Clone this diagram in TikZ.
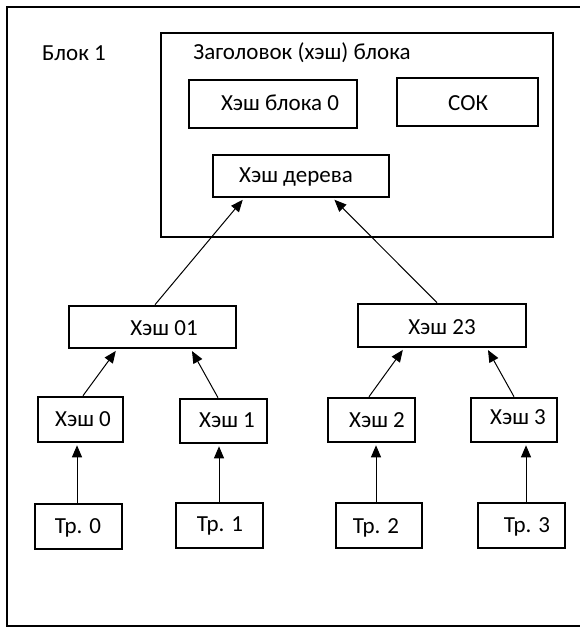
\documentclass[tikz,border=0pt]{standalone}
\usepackage{fontspec}
\setmainfont{Carlito}
\usetikzlibrary{arrows.meta}

\tikzset{
  box/.style={draw, line width=2.6pt, inner sep=0pt},
  lbl/.style={inner sep=0pt, font=\fontsize{23}{27}\selectfont},
  link/.style={line width=1pt, -{Triangle[length=12pt,width=10pt]}, shorten >=2pt},
}

% box from its corners (left, top, right, bottom), in pixels with y pointing down
\newcommand{\boxat}[5]{%
  \node[box, minimum width={(#4-#2)*1pt}, minimum height={(#5-#3)*1pt}]
    (#1) at ({(#2+#4)/2},{(#3+#5)/2}) {};}

\begin{document}
\begin{tikzpicture}[x=1pt, y=-1pt]
  \useasboundingbox (0,0) rectangle (579,628);

  % outer block frame, open on the right
  \draw[line width=2.6pt] (582,7) -- (7,7) -- (7,626) -- (582,626);
  \node[lbl] (blk) at (74,53) {Блок 1};

  % block header
  \boxat{hdr}{161}{33}{553}{237}
  \node[lbl] (hdrt) at (302,53) {Заголовок (хэш) блока};
  \boxat{hb0}{189}{80}{357}{128}
  \node[lbl] (hb0t) at (280,103) {Хэш блока 0};
  \boxat{sok}{397}{78}{538}{126}
  \node[lbl] (sokt) at (468,103) {СОК};
  \boxat{hd}{213}{155}{389}{197}
  \node[lbl] (hdt) at (296,177) {Хэш дерева};

  % Merkle tree
  \boxat{h01}{69}{306}{236}{348}
  \node[lbl] (h01t) at (164,328) {Хэш 01};
  \boxat{h23}{358}{304}{526}{347}
  \node[lbl] (h23t) at (442,327) {Хэш 23};

  \boxat{h0}{38}{397}{123}{442}
  \node[lbl] (h0t) at (83,419) {Хэш 0};
  \boxat{h1}{180}{399}{267}{443}
  \node[lbl] (h1t) at (227,420) {Хэш 1};
  \boxat{h2}{328}{398}{415}{442}
  \node[lbl] (h2t) at (377,420) {Хэш 2};
  \boxat{h3}{471}{398}{557}{442}
  \node[lbl] (h3t) at (518,417) {Хэш 3};

  \boxat{t0}{35}{504}{122}{549}
  \node[lbl] (t0t) at (78,528) {Тр. 0};
  \boxat{t1}{176}{503}{263}{548}
  \node[lbl] (t1t) at (220,526) {Тр. 1};
  \boxat{t2}{336}{503}{422}{548}
  \node[lbl] (t2t) at (376,528) {Тр. 2};
  \boxat{t3}{478}{503}{565}{548}
  \node[lbl] (t3t) at (527,527) {Тр. 3};

  % connectors
  \draw[link] ([xshift=2.5pt]h01.north) -- ([xshift=-57pt]hd.south);
  \draw[link] ([xshift=-5pt]h23.north) -- ([xshift=32pt]hd.south);

  \draw[link] ([xshift=2.5pt]h0.north) -- ([xshift=-35.5pt]h01.south);
  \draw[link] ([xshift=-5.5pt]h1.north) -- ([xshift=38.5pt]h01.south);
  \draw[link] ([xshift=-2.5pt]h2.north) -- ([xshift=-38pt]h23.south);
  \draw[link] (h3.north) -- ([xshift=45pt]h23.south);

  \draw[link] ([xshift=-1.5pt]t0.north) -- ([xshift=-3.5pt]h0.south);
  \draw[link] ([xshift=-0.5pt]t1.north) -- ([xshift=-4.5pt]h1.south);
  \draw[link] ([xshift=-3pt]t2.north) -- ([xshift=4.5pt]h2.south);
  \draw[link] ([xshift=4.5pt]t3.north) -- ([xshift=12pt]h3.south);
\end{tikzpicture}
\end{document}
